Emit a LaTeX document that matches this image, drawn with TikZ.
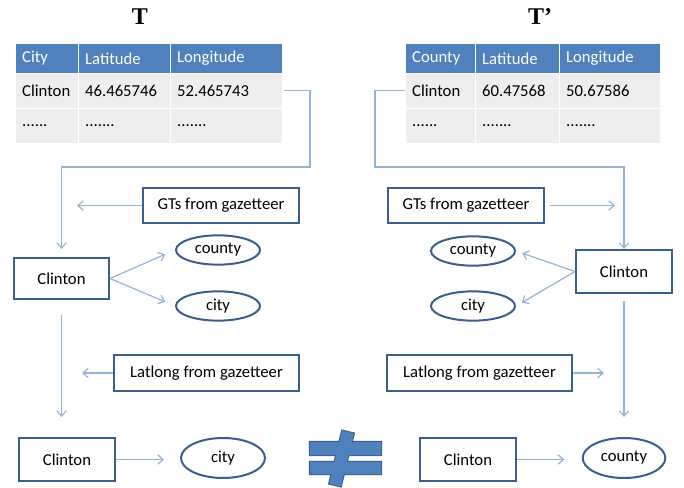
\documentclass[tikz,border=0pt]{standalone}
\usepackage{fontspec}
\setmainfont{Carlito}
\newfontfamily\titlefont{Liberation Serif}
\usetikzlibrary{arrows.meta, shapes.geometric}
\definecolor{hdrblue}{HTML}{4F81BD}
\definecolor{boxblue}{HTML}{3A5F8E}
\definecolor{linkblue}{HTML}{95B3D7}
\definecolor{rowgray}{HTML}{EEEEEE}

\begin{document}
\begin{tikzpicture}[
    % GLOBAL CFG
    x=0.75pt, y=-0.75pt,
    font=\fontsize{12.5}{15}\selectfont,
    >={Straight Barb[length=4pt,width=7pt]},
    % Styles
    cell/.style={% For all table cells
        rectangle,
        draw=white,
        line width=0.8pt,
        anchor=north west,
        inner xsep=5pt,
        inner ysep=0pt,
        align=left,
        },
    headcell/.style={% For the header row
        cell,
        fill=hdrblue,
        text=white,
        minimum height=22.5pt,
        },
    rowcell/.style={% For the data rows
        cell,
        fill=rowgray,
        minimum height=26pt,
        },
    box/.style={% For the rectangles
        rectangle,
        draw=boxblue,
        line width=1.5pt,
        fill=white,
        inner sep=2pt,
        },
    oval/.style={% For the types
        ellipse,
        draw=boxblue,
        line width=1.5pt,
        fill=white,
        inner sep=0pt,
        minimum width=63pt,
        minimum height=22pt,
        },
    title/.style={% For the table names
        font=\titlefont\bfseries\fontsize{18}{20}\selectfont,
        },
    link/.style={% Thin light arrows
        draw=linkblue,
        line width=0.9pt,
        },
    ]
    \useasboundingbox (0,0) rectangle (684,488);

    % Table T
    \node [title] (titleA) at (140,17) {T};
    \node [headcell, text width=37.25pt] (tA-h1) at (15,43) {City};
    \node [headcell, text width=59pt]    (tA-h2) at (78,43) {Latitude};
    \node [headcell, text width=74pt]    (tA-h3) at (170,43) {Longitude};
    \node [rowcell, text width=37.25pt]  (tA-a1) at (15,73) {Clinton};
    \node [rowcell, text width=59pt]     (tA-a2) at (78,73) {46.465746};
    \node [rowcell, text width=74pt]     (tA-a3) at (170,73) {52.465743};
    \node [rowcell, text width=37.25pt]  (tA-b1) at (15,108) {......};
    \node [rowcell, text width=59pt]     (tA-b2) at (78,108) {.......};
    \node [rowcell, text width=74pt]     (tA-b3) at (170,108) {.......};

    % Table T'
    \node [title] (titleB) at (540,17) {T’};
    \node [headcell, text width=42.5pt]  (tB-h1) at (405,43) {County};
    \node [headcell, text width=53pt]    (tB-h2) at (475,43) {Latitude};
    \node [headcell, text width=65.75pt] (tB-h3) at (559,43) {Longitude};
    \node [rowcell, text width=42.5pt]   (tB-a1) at (405,73) {Clinton};
    \node [rowcell, text width=53pt]     (tB-a2) at (475,73) {60.47568};
    \node [rowcell, text width=65.75pt]  (tB-a3) at (559,73) {50.67586};
    \node [rowcell, text width=42.5pt]   (tB-b1) at (405,108) {......};
    \node [rowcell, text width=53pt]     (tB-b2) at (475,108) {.......};
    \node [rowcell, text width=65.75pt]  (tB-b3) at (559,108) {.......};

    % Left side
    \node [box, minimum width=117pt, minimum height=26.25pt] (gtsA) at (221,205.5) {GTs from gazetteer};
    \node [box, minimum width=71.25pt, minimum height=30.75pt] (clintonA) at (61.5,278.5) {Clinton};
    \node [oval] (countyA) at (218,250) {county};
    \node [oval] (cityA) at (218,306) {city};
    \node [box, minimum width=138.75pt, minimum height=27pt] (latA) at (206.5,373) {Latlong from gazetteer};
    \node [box, minimum width=72pt, minimum height=32.25pt] (clintonC) at (67,459.5) {Clinton};
    \node [oval, minimum height=30pt] (cityC) at (223,458) {city};

    % Right side
    \node [box, minimum width=117pt, minimum height=26.25pt] (gtsB) at (466,205.5) {GTs from gazetteer};
    \node [box, minimum width=72pt, minimum height=32.25pt] (clintonB) at (624,271.5) {Clinton};
    \node [oval] (countyB) at (473,251) {county};
    \node [oval] (cityB) at (473,306) {city};
    \node [box, minimum width=138.75pt, minimum height=27pt] (latB) at (479.5,373) {Latlong from gazetteer};
    \node [box, minimum width=72pt, minimum height=32.25pt] (clintonD) at (468,459.5) {Clinton};
    \node [oval, minimum width=62pt, minimum height=30pt] (countyD) at (624,458) {county};

    % Free ends
    \coordinate (bendA) at (310,167);
    \coordinate (bendB) at (375,167);
    \coordinate (gtsAend) at (77,205.5);
    \coordinate (gtsBend) at (615,205.5);
    \coordinate (latAend) at (82,373);
    \coordinate (latBend) at (604,373);

    % Tables to Clinton
    \draw [->, link, shorten <=1pt, shorten >=6pt] (tA-a3.east) -| (bendA) -| (clintonA.north);
    \draw [->, link] (tB-a1.west) -| (bendB) -| (clintonB.north);

    % Gazetteer
    \draw [->, link] (gtsA.west) -- (gtsAend);
    \draw [->, link, shorten <=4pt] (gtsB.east) -- (gtsBend);
    \draw [->, link] (latA.west) -- (latAend);
    \draw [->, link] (latB.east) -- (latBend);

    % Types
    \draw [->, link, shorten >=8pt] (clintonA.east) -- (countyA.west);
    \draw [->, link, shorten >=8pt] (clintonA.east) -- (cityA.west);
    \draw [->, link, shorten >=5pt] (clintonB.west) -- (countyB.east);
    \draw [->, link, shorten >=5pt] (clintonB.west) -- (cityB.east);

    % Down to the result
    \draw [->, link, shorten <=11pt, shorten >=15pt] (clintonA.south) -- (clintonA.south |- clintonC.north);
    \draw [->, link, shorten <=5pt, shorten >=15pt] (clintonB.south) -- (countyD.north);
    \draw [->, link, shorten >=12pt] (clintonC.east) -- (clintonC.east -| cityC.west);
    \draw [->, link, shorten >=13pt] (clintonD.east) -- (clintonD.east -| countyD.west);

    % Not equal
    \draw [boxblue, line width=1.6pt] (310,442) rectangle (381,455) (310,462) rectangle (381,474)
        (353.8,433.4) -- (342.2,430.6) -- (329.2,483.6) -- (340.8,486.4) -- cycle;
    \fill [hdrblue] (310,442) rectangle (381,455) (310,462) rectangle (381,474)
        (353.8,433.4) -- (342.2,430.6) -- (329.2,483.6) -- (340.8,486.4) -- cycle;
\end{tikzpicture}
\end{document}
